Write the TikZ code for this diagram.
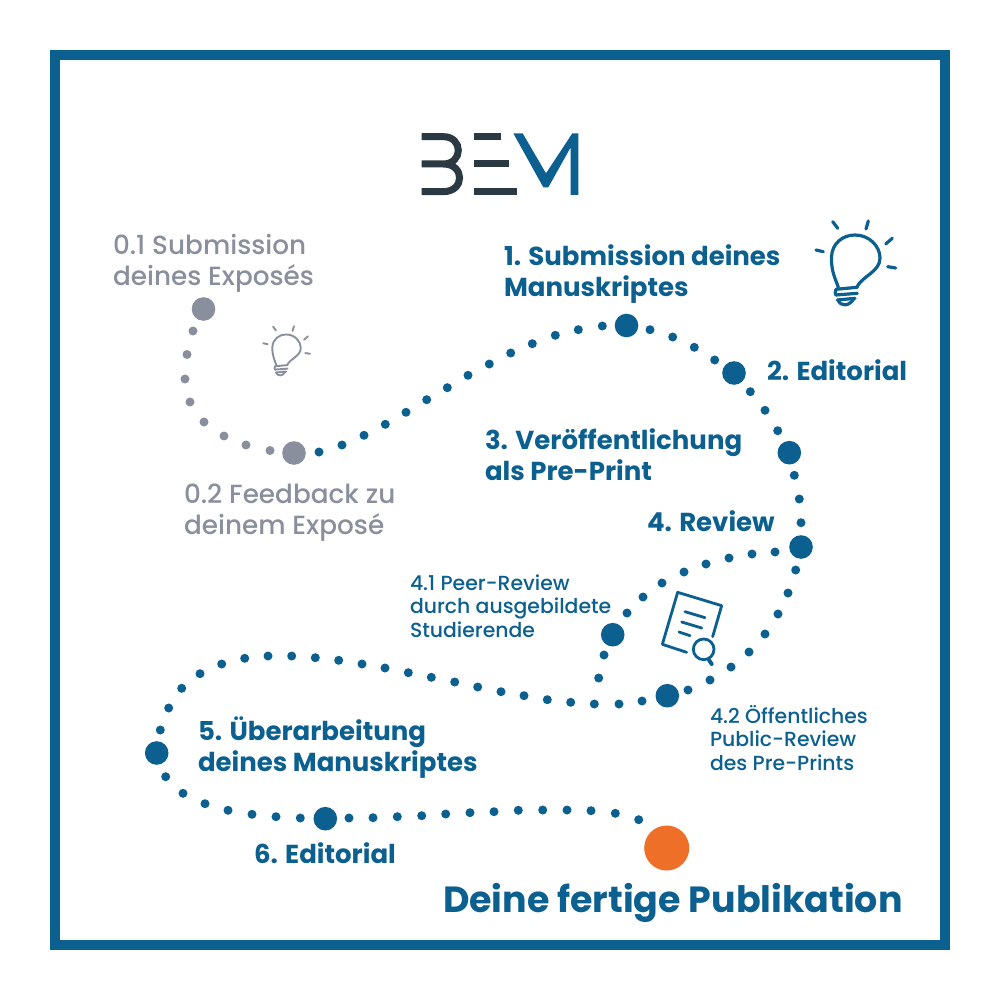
\documentclass[tikz,border=0pt]{standalone}
\usepackage{fontspec}
\setmainfont{Poppins}
\newfontfamily\semi{Poppins SemiBold}
\newfontfamily\bolder{Poppins Bold}
\newfontfamily\medi{Poppins Medium}
\definecolor{bemblue}{HTML}{0B6090}
\definecolor{bemgrey}{HTML}{8A8F9E}
\definecolor{bemorange}{HTML}{EE6F27}
\definecolor{bemdark}{HTML}{2B3A42}
\tikzset{
  frame/.style={draw=bemblue,line width=9.6pt},
  dotbase/.style={circle,inner sep=0pt,outer sep=0pt,draw=none},
  bluedot/.style={dotbase,fill=bemblue,minimum size=9pt},
  greydot/.style={dotbase,fill=bemgrey,minimum size=9pt},
  bigblue/.style={dotbase,fill=bemblue,minimum size=23.6pt},
  biggrey/.style={dotbase,fill=bemgrey,minimum size=23.6pt},
  bigorange/.style={dotbase,fill=bemorange,minimum size=45pt},
  label/.style={inner sep=0pt,outer sep=0pt,anchor=base west,align=left},
  headline/.style={label,text=bemblue,font=\bolder\fontsize{26}{31}\selectfont},
  subline/.style={label,text=bemblue,font=\medi\fontsize{20.4}{23.5}\selectfont},
  greyline/.style={label,text=bemgrey,font=\medi\fontsize{26.3}{31}\selectfont},
  titleline/.style={label,text=bemblue,font=\bolder\fontsize{36.4}{40}\selectfont},
  bulb/.pic={
    \tikzset{every path/.style={draw=#1,line cap=round,line join=round}}
    \draw (38.3,77.3) .. controls (36,70) and (31,62) .. (31.5,47)
       .. controls (32,33) and (43,25) .. (55,25)
       .. controls (69,25) and (80,36) .. (80,48)
       .. controls (80,62) and (62,66) .. (56.7,77.3);
    \draw (36,79.3) -- (57.3,77.3) (36,85) -- (57.3,83.3) (37.3,90) -- (55,88.3);
    \draw (38,90) .. controls (41,97) and (49,96.5) .. (54,88.5);
    \draw (36,79.3) .. controls (35,82) and (35,84) .. (36,85);
    \draw (16,40) -- (23.3,41.7) (32.7,11.7) -- (37.7,18.3) (68.3,11) -- (66,19)
          (92.3,28.3) -- (85.7,34) (87.7,56.7) -- (95.7,58);
  }
}
\begin{document}
\begin{tikzpicture}[x=1pt,y=-1pt]
\useasboundingbox (0,0) rectangle (1000,1000);
\fill[white] (0,0) rectangle (1000,1000);
\draw[frame] (54.8,54.8) rectangle (945.2,945.2);

% logo
\begin{scope}[shift={(400,110)},x=0.3333pt,y=-0.3333pt]
  \draw[bemdark,line width=7pt] (65,80) -- (130,80) .. controls (190,80) and (190,162) .. (130,162) -- (65,162)
     (130,162) .. controls (195,162) and (195,245) .. (130,245) -- (65,245);
  \draw[bemdark,line width=7pt] (222,80) -- (304,80) (222,162) -- (328,162) (222,245) -- (350,245);
  \fill[bemblue] (340,70) -- (368,70) -- (438,190) -- (517,70) -- (535,70) -- (535,255) -- (512,255) -- (512,112) -- (445,232) -- (430,232) -- cycle;
\end{scope}

% bulbs
\pic[line width=3.2pt] at (800,210) {bulb=bemblue};
\pic[line width=1.9pt,scale=0.586] at (253.9,319.8) {bulb=bemgrey};

% review icon
\begin{scope}[shift={(590,530)},x=0.3333pt,y=-0.3333pt,draw=bemblue,line width=2.8pt,line cap=round,line join=round]
  \draw (368,320) -- (395,227) -- (263,187) -- (217,343) -- (290,367);
  \draw (285,245) -- (345,263) (275,276) -- (335,294) (267,306) -- (300,317);
  \draw (341,358) circle[radius=31];
  \draw[line width=4pt] (357,390) -- (365,402);
\end{scope}

% grey dots
\foreach \px/\py [count=\i] in {193/331,187/354.5,185/379,190/402,204/422,224/436,246/445,270/450.5}
  \node[greydot] (g\i) at (\px,\py) {};
\node[biggrey] (n01) at (203.5,309) {};
\node[biggrey] (n02) at (294,453) {};

% blue dots
\foreach \px/\py [count=\i] in {319/452,342/445,364/435.3,385.3/424.3,406/412.3,426.7/399.7,447.3/387.7,468/375.3,489.3/364,510.7/353,532.3/343.7,555.3/335.3,578.3/329.7,602.3/326,
 650/329.7,672.7/337,694.3/347.3,714.7/360,
 750.3/391.7,765/410.3,777.7/430.7,
 794.3/475.3,799.3/499,801/522.7,
 775/552,752/554,729/558,706/564,684/572,662/583,643/597,627/613,
 604/655,598.7/678,594.3/704,
 795.7/570,788/593,778/614,765/634,749/652,731/667,710/680,688/690,
 642/701,619/704,570.7/702.3,547.3/699.7,524/695.7,501/691.7,477.7/687,454.7/682,431.3/677.3,408.3/672.7,385/668,
 362/664,338.7/660.3,315.3/657.7,291.7/656,268/656,244.7/658.3,221.7/664,200/673.7,181.7/688.3,168.7/708,160.3/730,
 165.7/776.7,183/793.3,205/803.7,228/810.3,252/814.3,276/816.7,300.3/818,
 349/818,373/817.7,397.3/816.7,421.7/815.7,445.7/814,470/812.7,494/811.7,518.3/810.3,542.7/810,567/810,591/810.7,615.3/813.3,638.7/819.7}
  \node[bluedot] (b\i) at (\px,\py) {};
\node[bigblue] (n1) at (626.5,325.5) {};
\node[bigblue] (n2) at (734,373) {};
\node[bigblue] (n3) at (789.3,452.7) {};
\node[bigblue] (n4) at (801,547) {};
\node[bigblue] (n41) at (612.7,634.7) {};
\node[bigblue] (n42) at (667.3,695.7) {};
\node[bigblue] (n5) at (156.7,753) {};
\node[bigblue] (n6) at (325.3,818.7) {};
\node[bigorange] (end) at (666.7,848) {};

% labels
\node[greyline] (t01) at (113,285) {0.1 Submission\\deines Exposés};
\node[greyline] (t02) at (184,534) {0.2 Feedback zu\\deinem Exposé};
\node[headline] (t1) at (504,296) {1. Submission deines\\Manuskriptes};
\node[headline] (t2) at (767,380) {2. Editorial};
\node[headline] (t3) at (485,480) {3. Veröffentlichung\\als Pre-Print};
\node[headline] (t4) at (647,531) {4. Review};
\node[subline] (t41) at (410,637) {4.1 Peer-Review\\durch ausgebildete\\Studierende};
\node[subline] (t42) at (710,770) {4.2 Öffentliches\\Public-Review\\des Pre-Prints};
\node[headline] (t5) at (198,771) {5. Überarbeitung\\deines Manuskriptes};
\node[headline] (t6) at (254,863) {6. Editorial};
\node[titleline] (tend) at (443,912) {Deine fertige Publikation};
\end{tikzpicture}
\end{document}
